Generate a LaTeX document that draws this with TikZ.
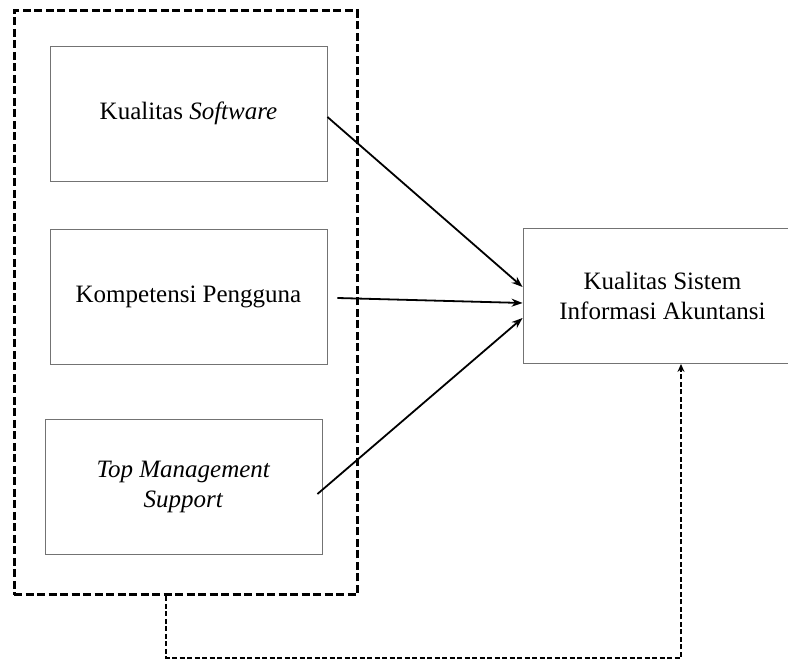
\documentclass[tikz,border=0pt]{standalone}
\usepackage{fontspec}
\setmainfont{Liberation Serif}
\usetikzlibrary{arrows.meta}

\begin{document}
\begin{tikzpicture}[x=1pt, y=1pt,
    varbox/.style={draw=black!55, line width=0.9pt, minimum width=277pt,
      minimum height=135pt, inner sep=0pt, align=center,
      font=\fontsize{25}{30}\selectfont},
    effect/.style={-{Stealth[length=11pt, width=8pt]}, line width=1.8pt},
    groupbox/.style={draw, line width=3pt, dash pattern=on 8pt off 3.5pt,
      minimum width=343pt, minimum height=584pt, inner sep=0pt},
    feedback/.style={-{Stealth[length=8pt, width=7pt]}, line width=1.3pt,
      dash pattern=on 5pt off 2.5pt}]
  \useasboundingbox (0, 0) rectangle (788, 663);

  % Group of independent variables
  \node [groupbox] (grp) at (185.5, 360) {};

  % Variables
  \node [varbox] (sw)   at (188.5, 549.5) {Kualitas \textit{Software}};
  \node [varbox] (kp)   at (188.5, 366.5) {Kompetensi Pengguna};
  \node [varbox] (tms)  at (183.5, 176)   {\textit{Top Management}\\\textit{Support}};
  \node [varbox, minimum width=279pt] (ksia) at (662.5, 367)
    {Kualitas Sistem\\Informasi Akuntansi};

  % Effects
  \draw [effect] ([yshift=-3.5pt]sw.east) -- ([yshift=9pt]ksia.west);
  \draw [effect] ([shift={(10pt,-1.5pt)}]kp.east) -- ([yshift=-7pt]ksia.west);
  \draw [effect] ([shift={(-5pt,-7pt)}]tms.east) -- ([yshift=-22pt]ksia.west);

  % Simultaneous effect
  \coordinate (fbl) at (166, 5);
  \coordinate (fbr) at (681, 5);
  \draw [feedback] (grp.south -| fbl) -- (fbl) -- (fbr) -- (ksia.south -| fbr);

\end{tikzpicture}
\end{document}
